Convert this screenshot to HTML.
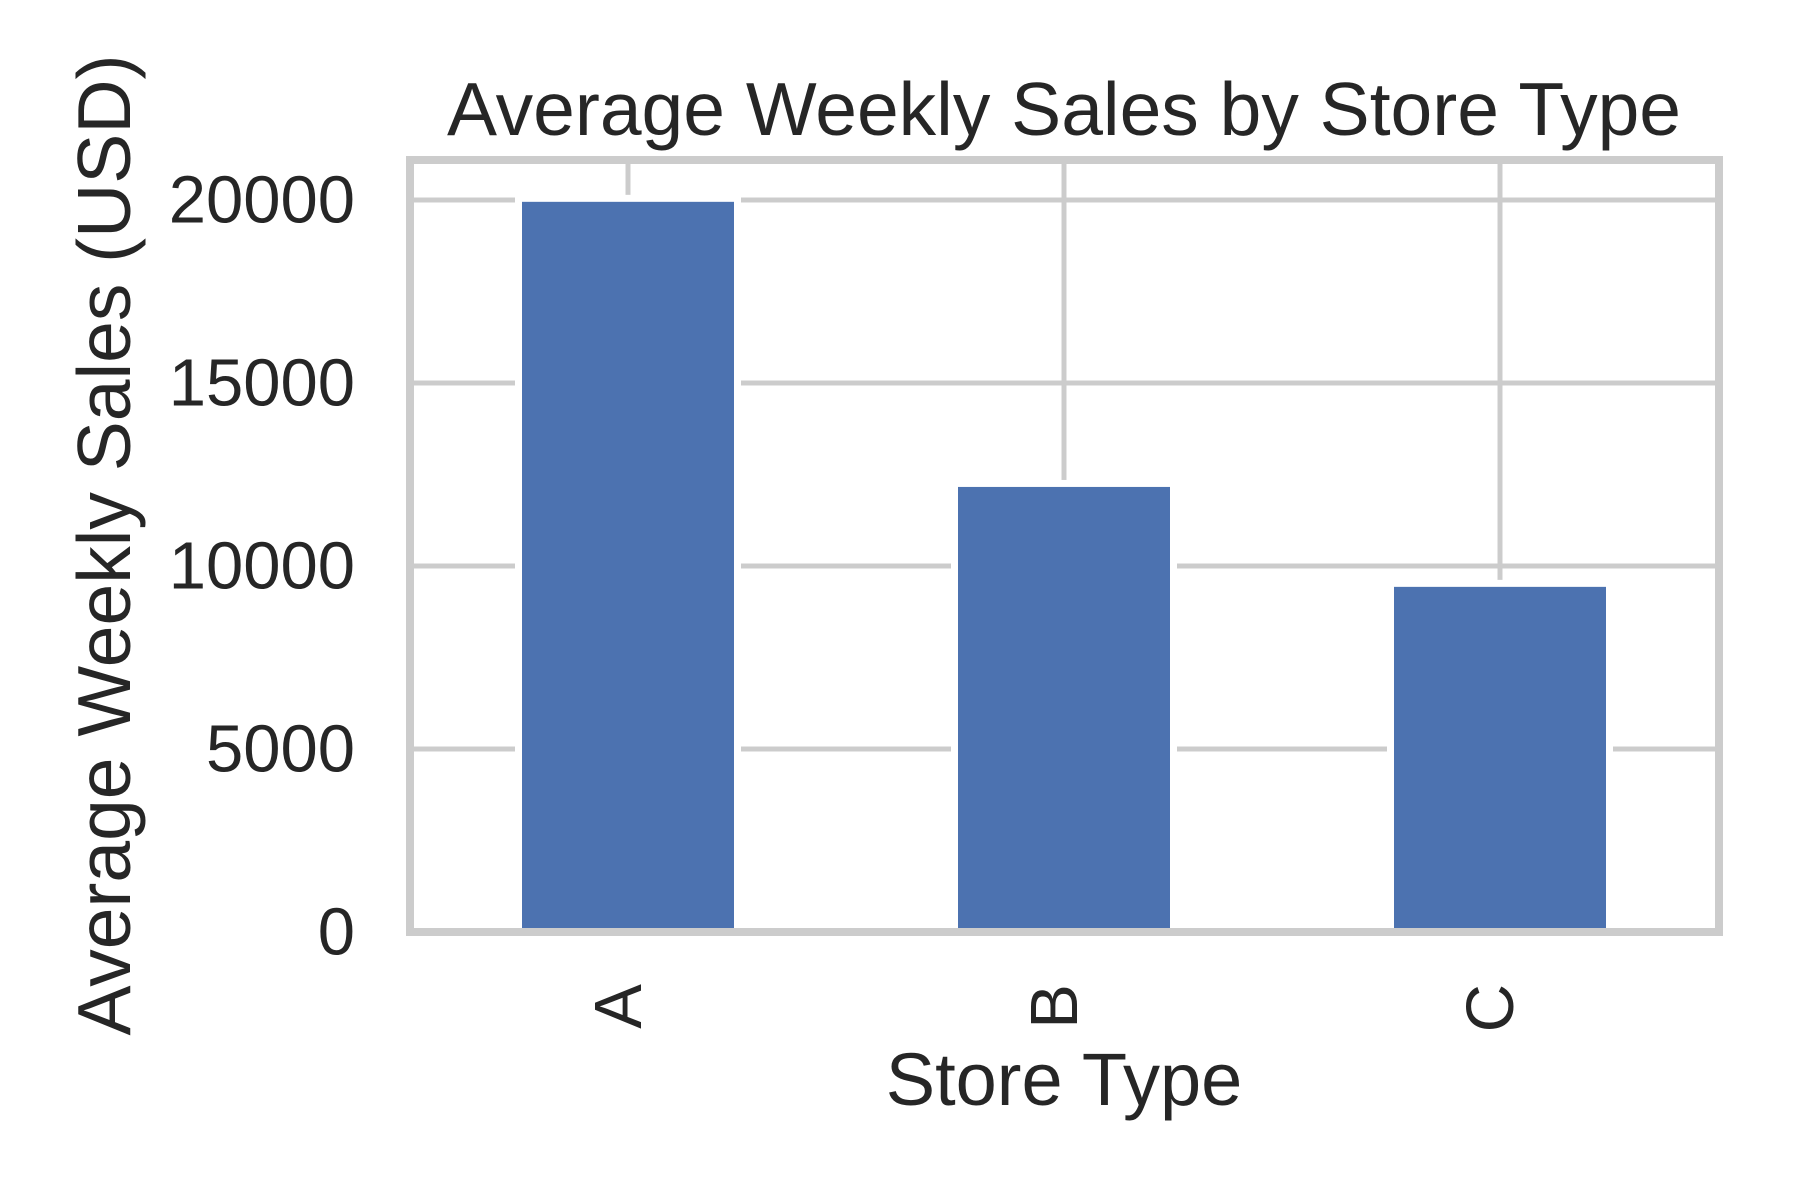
<!DOCTYPE html>
<html><head><meta charset="utf-8"><style>
html,body{margin:0;padding:0;background:#fff;}
svg{display:block;font-family:"Liberation Sans",Arial,sans-serif;}
</style></head><body>
<svg id="chart" width="1800" height="1200" viewBox="0 0 1800 1200" xmlns="http://www.w3.org/2000/svg">
<rect width="1800" height="1200" fill="#fff"/>
<g id="grid"></g>
<g id="bars"></g>
<rect x="410" y="160" width="1309" height="772" fill="none" stroke="#cccccc" stroke-width="8"/>
<g id="labels"></g>
<text x="1064" y="135" font-size="75" fill="#262626" text-anchor="middle">Average Weekly Sales by Store Type</text>
<text x="1064" y="1105" font-size="74" fill="#262626" text-anchor="middle">Store Type</text>
<text transform="translate(130,545) rotate(-90)" font-size="75" fill="#262626" text-anchor="middle">Average Weekly Sales (USD)</text>
</svg>
<script>
const categories = ["A", "B", "C"];
const values = [19950, 12160, 9430];
const yTicks = [0, 5000, 10000, 15000, 20000];
const yTickLabels = ["0", "5000", "10000", "15000", "20000"];

const NS = "http://www.w3.org/2000/svg";
const plotLeft = 410, plotRight = 1719, plotTop = 160, plotBottom = 932;
function yScale(v) { return plotBottom - v * (932 - 200) / 20000; }
const step = 436, firstCenter = 628;
function xScale(i) { return firstCenter + i * step; }
const barW = 212;

function mk(tag, attrs, parent) {
  const el = document.createElementNS(NS, tag);
  for (const k in attrs) el.setAttribute(k, attrs[k]);
  parent.appendChild(el);
  return el;
}
const gridG = document.getElementById('grid');
const barsG = document.getElementById('bars');
const labelsG = document.getElementById('labels');

yTicks.forEach((t, i) => {
  const y = yScale(t);
  const g = mk('line', {x1: plotLeft, x2: plotRight, y1: y, y2: y, stroke: '#cccccc', 'stroke-width': 5}, gridG);
  
  
  const tx = mk('text', {x: 355, y: y, 'font-size': 67, fill: '#262626', 'text-anchor': 'end', 'dominant-baseline': 'central'}, labelsG);
  tx.textContent = yTickLabels[i];
  
  
});
categories.forEach((c, i) => {
  const x = xScale(i);
  const g = mk('line', {x1: x, x2: x, y1: plotTop, y2: plotBottom, stroke: '#cccccc', 'stroke-width': 5}, gridG);
  
  
  const yTop = yScale(values[i]);
  const edge = mk('rect', {x: x - barW / 2 - 7, y: yTop - 7, width: barW + 14, height: plotBottom - yTop + 7, fill: '#ffffff'}, barsG);
  
  
  const b = mk('rect', {x: x - barW / 2, y: yTop, width: barW, height: plotBottom - yTop, fill: '#4c72b0'}, barsG);
  
  
  const t = mk('text', {transform: 'translate(' + (x + 13) + ',984) rotate(-90)', 'font-size': 67, fill: '#262626', 'text-anchor': 'end'}, labelsG);
  t.textContent = c;
  
  
});
</script>
</body></html>
